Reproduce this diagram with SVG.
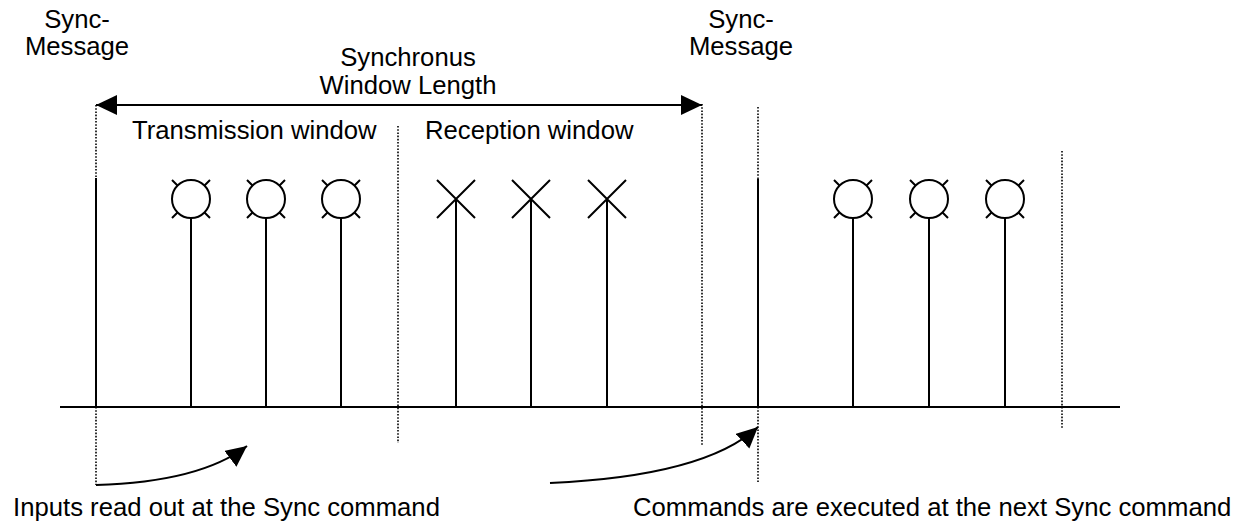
<svg xmlns="http://www.w3.org/2000/svg" width="1250" height="524" viewBox="0 0 1250 524">
  <defs>
    <style>
      text { font-family: "Liberation Sans", Arial, sans-serif; font-size: 25.7px; fill: #000; }
      .mid { text-anchor: middle; }
      .solid { stroke: #000; stroke-width: 2; fill: none; }
      .dot { stroke: #000; stroke-width: 1.6; stroke-dasharray: 1.6 1.6; fill: none; }
      .lamp { stroke: #000; stroke-width: 2; fill: #fff; }
    </style>
    <marker id="head" markerUnits="userSpaceOnUse" markerWidth="22" markerHeight="22" refX="21" refY="10" orient="auto-start-reverse">
      <path d="M0,0 L21,10 L0,20 Z" fill="#000"/>
    </marker>
    <!-- lamp symbol: cross behind a white circle -->
    <g id="lampSym">
      <path class="solid" d="M-19,-19 L19,19 M19,-19 L-19,19"/>
      <circle class="lamp" r="19"/>
    </g>
    <path id="crossSym" class="solid" d="M-19,-19 L19,19 M19,-19 L-19,19"/>
  </defs>

  <rect width="1250" height="524" fill="#fff"/>

  <!-- time axis -->
  <g id="axis">
    <line class="solid" x1="60" y1="407" x2="1120" y2="407"/>
  </g>

  <!-- window boundaries (dotted) -->
  <g id="boundaries">
    <line class="dot" x1="398" y1="126" x2="398" y2="443"/>
    <line class="dot" x1="702" y1="104" x2="702" y2="445"/>
    <line class="dot" x1="1062" y1="151" x2="1062" y2="428"/>
  </g>

  <!-- sync messages -->
  <g id="sync1">
    <line class="dot" x1="96" y1="105" x2="96" y2="178"/>
    <line class="solid" x1="96" y1="178" x2="96" y2="407"/>
    <line class="dot" x1="96" y1="407" x2="96" y2="485"/>
    <text class="mid" x="77" y="28">Sync-</text>
    <text class="mid" x="77" y="55">Message</text>
  </g>
  <g id="sync2">
    <line class="dot" x1="758" y1="107" x2="758" y2="179"/>
    <line class="solid" x1="758" y1="179" x2="758" y2="407"/>
    <line class="dot" x1="758" y1="407" x2="758" y2="482"/>
    <text class="mid" x="741" y="28">Sync-</text>
    <text class="mid" x="741" y="55">Message</text>
  </g>

  <!-- transmission pulses -->
  <g id="tx1"><line class="solid" x1="191" y1="218" x2="191" y2="407"/><use href="#lampSym" x="191" y="199"/></g>
  <g id="tx2"><line class="solid" x1="266" y1="218" x2="266" y2="407"/><use href="#lampSym" x="266" y="199"/></g>
  <g id="tx3"><line class="solid" x1="341" y1="218" x2="341" y2="407"/><use href="#lampSym" x="341" y="199"/></g>

  <!-- reception pulses -->
  <g id="rx1"><line class="solid" x1="456" y1="199" x2="456" y2="407"/><use href="#crossSym" x="456" y="199"/></g>
  <g id="rx2"><line class="solid" x1="531" y1="199" x2="531" y2="407"/><use href="#crossSym" x="531" y="199"/></g>
  <g id="rx3"><line class="solid" x1="607" y1="199" x2="607" y2="407"/><use href="#crossSym" x="607" y="199"/></g>

  <!-- next cycle transmission pulses -->
  <g id="tx4"><line class="solid" x1="853" y1="218" x2="853" y2="407"/><use href="#lampSym" x="853" y="199"/></g>
  <g id="tx5"><line class="solid" x1="929" y1="218" x2="929" y2="407"/><use href="#lampSym" x="929" y="199"/></g>
  <g id="tx6"><line class="solid" x1="1005" y1="218" x2="1005" y2="407"/><use href="#lampSym" x="1005" y="199"/></g>

  <!-- labels -->
  <g id="windowLength">
    <text class="mid" x="408" y="66">Synchronus</text>
    <text class="mid" x="408" y="94">Window Length</text>
  </g>
  <g id="txWindow"><text x="132" y="139">Transmission window</text></g>
  <g id="rxWindow"><text x="425" y="139">Reception window</text></g>
  <g id="noteInputs"><text x="13" y="516">Inputs read out at the Sync command</text></g>
  <g id="noteCommands"><text x="633" y="516">Commands are executed at the next Sync command</text></g>

  <!-- connectors -->
  <g id="connectors">
    <line class="solid" x1="96" y1="105" x2="702" y2="105" marker-start="url(#head)" marker-end="url(#head)"/>
    <path class="solid" d="M96,485 Q200,482 247,446" marker-end="url(#head)"/>
    <path class="solid" d="M550,483 Q705,476 758,427" marker-end="url(#head)"/>
  </g>
</svg>
